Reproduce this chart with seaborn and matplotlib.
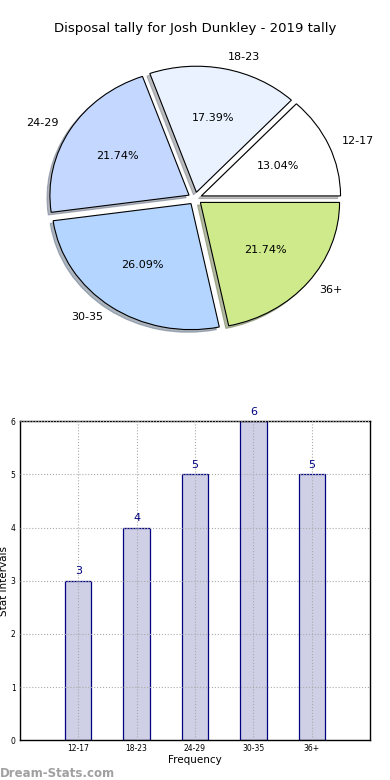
import matplotlib
matplotlib.use("Agg")
import matplotlib.pyplot as plt
import seaborn as sns
import pandas as pd

intervals = ["12-17", "18-23", "24-29", "30-35", "36+"]
counts = [3, 4, 5, 6, 5]
pie_colors = ["#ffffff", "#eaf2ff", "#c4d8ff", "#b3d5ff", "#ceea8a"]
title = "Disposal tally for Josh Dunkley - 2019 tally"

sns.set_style("white")
plt.rcParams["font.family"] = ["DejaVu Sans"]
plt.rcParams.update({"text.color": "black", "axes.labelcolor": "black",
                     "xtick.color": "black", "ytick.color": "black"})

fig = plt.figure(figsize=(3.9, 7.8), dpi=100)

# pie (old-style, stretched to the axes box)
ax1 = fig.add_axes([0.054, 0.5436, 0.892, 0.404])
ax1.pie(counts, labels=intervals, colors=pie_colors, explode=[0.05] * 5,
        autopct="%1.2f%%", shadow={"ox": -0.015, "oy": -0.015, "shade": 0.5},
        startangle=0, radius=1.0,
        wedgeprops={"edgecolor": "black", "linewidth": 0.8},
        textprops={"fontsize": 8, "color": "black"})
ax1.set_aspect("auto")
ax1.set_xlim(-1.25, 1.25)
ax1.set_ylim(-1.25, 1.25)
fig.text(0.5, 0.955, title, ha="center", va="bottom", fontsize=9.5)

# bars
df = pd.DataFrame({"interval": intervals, "count": counts})
ax2 = fig.add_axes([0.051, 0.051, 0.898, 0.409])
sns.barplot(data=df, x="interval", y="count", ax=ax2, width=0.45,
            color="#cfcfe6", edgecolor="navy", linewidth=0.9, saturation=1)
for i, c in enumerate(counts):
    ax2.text(i, c + 0.08, str(c), ha="center", va="bottom", color="navy", fontsize=8)
ax2.set_xlim(-1, 5)
ax2.set_ylim(0, 6)
ax2.set_yticks(range(7))
ax2.grid(True, linestyle=":", color="#aaaaaa", linewidth=0.8)
ax2.set_axisbelow(False)
ax2.tick_params(direction="in", labelsize=5.5, length=3, pad=3)
for s in ax2.spines.values():
    s.set_color("black")
    s.set_linewidth(1)
ax2.set_xlabel("Frequency", fontsize=7.5, labelpad=1)
ax2.set_ylabel("Stat Intervals", fontsize=7.5, labelpad=1)

fig.text(0.0, 0.004, "Dream-Stats.com", color="#a0a0a0", fontsize=8.5, fontweight="bold")

fig.savefig("out.png", dpi=100)
